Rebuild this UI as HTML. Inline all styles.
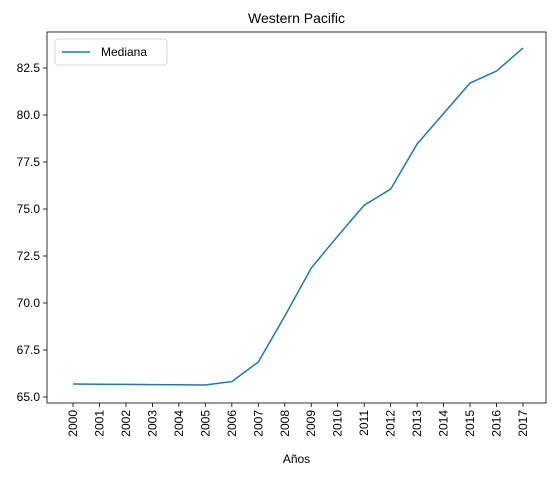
<!DOCTYPE html>
<html><head><meta charset="utf-8"><style>
body{margin:0;background:#fff;}
svg{font-family:"Liberation Sans","DejaVu Sans",sans-serif;}
</style></head><body>
<svg id="chart" width="556" height="476"></svg>
<script>
const years=[2000,2001,2002,2003,2004,2005,2006,2007,2008,2009,2010,2011,2012,2013,2014,2015,2016,2017];
const mediana=[65.69,65.68,65.67,65.66,65.65,65.64,65.82,66.86,69.3,71.86,73.56,75.2,76.06,78.46,80.08,81.7,82.34,83.56];
const yTicks=[65.0,67.5,70.0,72.5,75.0,77.5,80.0,82.5];
const svg=document.getElementById('chart');
const NS='http://www.w3.org/2000/svg';
const L=47,R=546,T=32,B=403;
const x=v=>73+(v-2000)*(523-73)/17;
const y=v=>397-(v-65)*18.8;
function mk(tag,attrs,parent){const e=document.createElementNS(NS,tag);for(const k in attrs)e.setAttribute(k,attrs[k]);(parent||svg).appendChild(e);return e;}
const frame=mk('rect',{x:L,y:T,width:R-L,height:B-T,fill:'none',stroke:'#000','stroke-width':0.8});


yTicks.forEach(t=>{
  const ln=mk('line',{x1:L-4,x2:L,y1:y(t),y2:y(t),stroke:'#000','stroke-width':0.8});
  
  
  const tx=mk('text',{x:L-7,y:y(t)+4,'text-anchor':'end','font-size':12});
  tx.textContent=t.toFixed(1);
  
  
});
years.forEach(yr=>{
  const ln=mk('line',{x1:x(yr),x2:x(yr),y1:B,y2:B+4,stroke:'#000','stroke-width':0.8});
  
  
  const tx=mk('text',{x:0,y:0,'text-anchor':'end','font-size':12,transform:`translate(${x(yr)+4},${B+7}) rotate(-90)`});
  tx.textContent=yr;
  
  
});
const pts=years.map((yr,i)=>x(yr)+','+y(mediana[i])).join(' ');
const line=mk('polyline',{points:pts,fill:'none',stroke:'#1f77b4','stroke-width':1.5});


const title=mk('text',{x:(L+R)/2,y:23,'text-anchor':'middle','font-size':14});
title.textContent='Western Pacific';


const xl=mk('text',{x:(L+R)/2,y:463,'text-anchor':'middle','font-size':12});
xl.textContent='Años';


const lg=mk('g',{});


mk('rect',{x:55,y:39,width:112,height:26,rx:3,fill:'#fff',stroke:'#ccc','stroke-width':0.8},lg);
mk('line',{x1:62,x2:90,y1:52,y2:52,stroke:'#1f77b4','stroke-width':1.5},lg);
const lt=mk('text',{x:101,y:56,'font-size':12},lg);
lt.textContent='Mediana';
</script>
</body></html>
